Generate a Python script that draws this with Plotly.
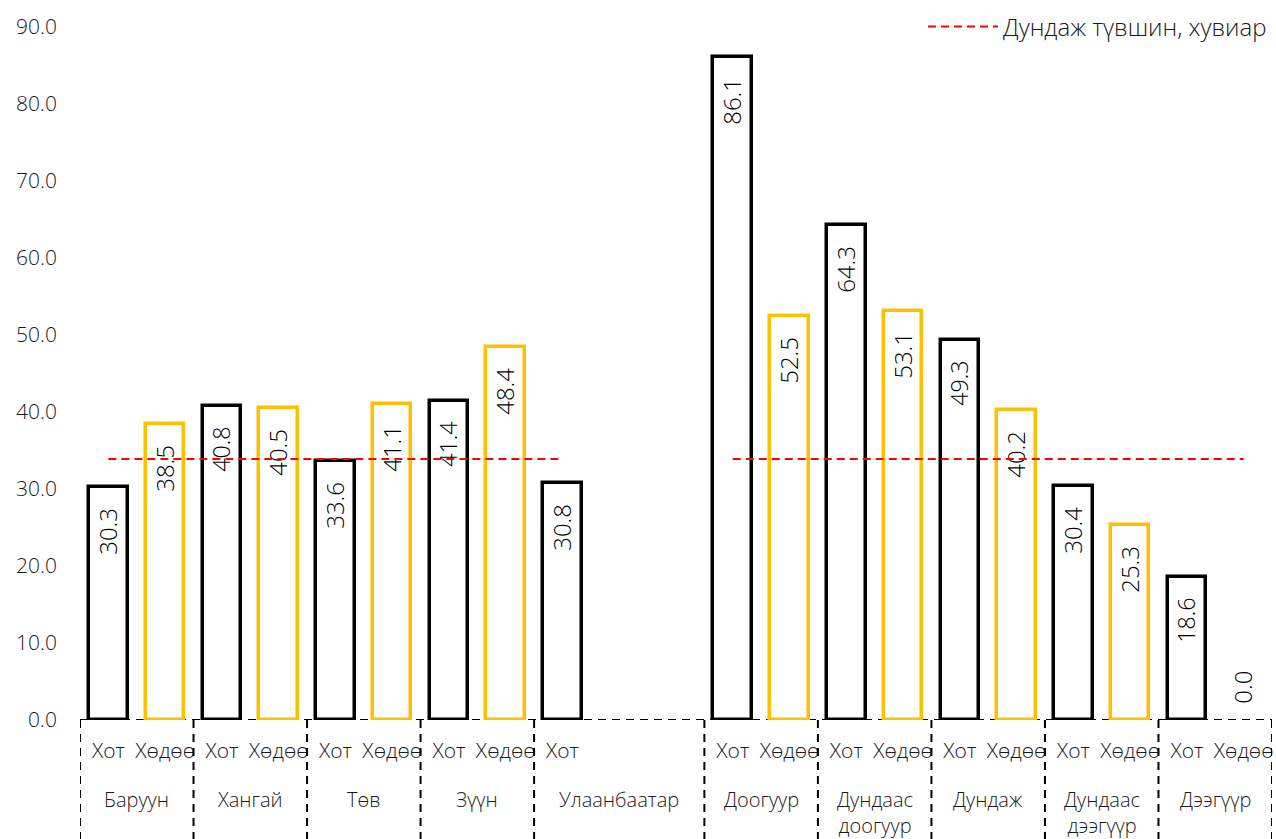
import plotly.graph_objects as go

# Бүс нутаг / квинтиль бүлгүүд
groups = ["Баруун", "Хангай", "Төв", "Зүүн", "Улаанбаатар",
          "Доогуур", "Дундаас<br>доогуур", "Дундаж", "Дундаас<br>дээгүүр", "Дээгүүр"]
slots = [2, 2, 2, 2, 3, 2, 2, 2, 2, 2]  # Улаанбаатар has only Хот plus empty room
hot = [30.3, 40.8, 33.6, 41.4, 30.8, 86.1, 64.3, 49.3, 30.4, 18.6]
khudoo = [38.5, 40.5, 41.1, 48.4, None, 52.5, 53.1, 40.2, 25.3, 0.0]
avg_region = 33.9
avg_quintile = 33.9
sub_labels = ["Хот", "Хөдөө"]
legend_name = "Дундаж түвшин, хувиар"

# slot positions
starts = []
pos = 0
for s in slots:
    starts.append(pos)
    pos += s
n_slots = pos

x_hot = [st for st in starts]
x_kh = [st + 1 for st, v in zip(starts, khudoo) if v is not None]
y_kh = [v for v in khudoo if v is not None]

font_fam = "Open Sans"
txt_col = "#1a1a1a"
pad = "\u00a0\u00a0\u00a0"  # room between bar top and its label


def label(v):
    # inside labels end at the bar top, outside ones start at it
    return f"{v:.1f}{pad}" if v > 0 else f"{pad[:2]}{v:.1f}"


fig = go.Figure()

fig.add_trace(go.Bar(
    x=x_hot, y=hot, width=0.68,
    marker=dict(color="white", line=dict(color="black", width=3.5)),
    text=[label(v) for v in hot], textangle=-90,
    textposition="inside", insidetextanchor="end",
    textfont=dict(size=24, color="black", family=font_fam, weight=300),
    showlegend=False,
))
fig.add_trace(go.Bar(
    x=x_kh, y=y_kh, width=0.68,
    marker=dict(color="white",
                line=dict(color=["#FFC000" if v > 0 else "rgba(0,0,0,0)" for v in y_kh],
                          width=3.5)),
    text=[label(v) for v in y_kh], textangle=-90,
    textposition=["outside" if v == 0 else "inside" for v in y_kh],
    insidetextanchor="end", constraintext="none",
    textfont=dict(size=24, color="black", family=font_fam, weight=300),
    cliponaxis=False,
    showlegend=False,
))

# average lines: regions (Баруун .. Улаанбаатар) and quintiles
ub = groups.index("Улаанбаатар")
xa = [starts[0], starts[ub]]
xb = [starts[ub + 1], n_slots - 1]
fig.add_trace(go.Scatter(
    x=xa + [None] + xb,
    y=[avg_region, avg_region, None, avg_quintile, avg_quintile],
    mode="lines", line=dict(color="#FF0000", width=2, dash="8px,5px"),
    name=legend_name, showlegend=True,
))

# tick labels: Хот / Хөдөө for each slot used
tickvals, ticktext = [], []
for st, v in zip(starts, khudoo):
    tickvals.append(st)
    ticktext.append(sub_labels[0])
    if v is not None:
        tickvals.append(st + 1)
        ticktext.append(sub_labels[1])

shapes = []
bottom = -0.175
# dashed baseline
shapes.append(dict(type="line", xref="x", yref="y", x0=-0.5, x1=n_slots - 0.5, y0=0, y1=0,
                   line=dict(color="black", width=2, dash="8px,6px"), layer="below"))
for b in starts + [n_slots]:
    shapes.append(dict(type="line", xref="x", yref="paper", x0=b - 0.5, x1=b - 0.5,
                       y0=0, y1=bottom, line=dict(color="black", width=2, dash="8px,6px")))

annotations = []
for g, st, s in zip(groups, starts, slots):
    annotations.append(dict(x=st + (s - 1) / 2, y=-0.093, xref="x", yref="paper",
                            text=g, showarrow=False, yanchor="top", xanchor="center",
                            font=dict(size=20, color=txt_col, family=font_fam, weight=300)))

fig.update_layout(
    width=1276, height=839,
    margin=dict(l=80, r=4, t=24, b=119),
    plot_bgcolor="white", paper_bgcolor="white",
    bargap=0,
    font=dict(family=font_fam, color=txt_col, weight=300),
    xaxis=dict(range=[-0.5, n_slots - 0.5], tickvals=tickvals, ticktext=ticktext,
               showgrid=False, zeroline=False, showline=False, ticks="",
               tickfont=dict(size=21, color=txt_col, weight=300), ticklabelstandoff=16),
    yaxis=dict(range=[0, 90], dtick=10, tickformat=".1f", showgrid=False,
               zeroline=False, showline=False, ticks="",
               tickfont=dict(size=21, color=txt_col, weight=300), ticklabelstandoff=22),
    legend=dict(x=1, y=1.0, xanchor="right", yanchor="middle", itemwidth=70,
                font=dict(size=24, color=txt_col, weight=300), bgcolor="rgba(0,0,0,0)"),
    shapes=shapes, annotations=annotations,
)

fig.write_html("out.html", config={"displayModeBar": False},
               post_script="document.body.style.margin='0';")
